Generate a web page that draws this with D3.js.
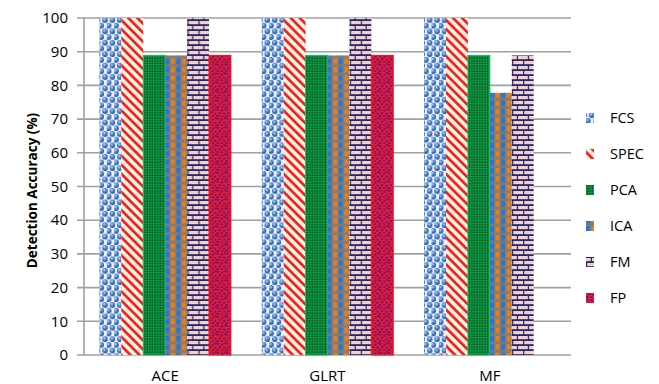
<!DOCTYPE html>
<html>
<head>
<meta charset="utf-8">
<script src="https://cdn.jsdelivr.net/npm/d3@7"></script>
<style>
  html, body { margin: 0; padding: 0; background: #fff; }
  svg { display: block; }
  text { font-family: "Open Sans", "Liberation Sans", sans-serif; fill: #000; }
</style>
</head>
<body>
<svg id="chart" width="659" height="384"></svg>
<script>
// Detection methods on the x axis, feature sets as the bar series
const categories = ["ACE", "GLRT", "MF"];
const series = ["FCS", "SPEC", "PCA", "ICA", "FM", "FP"];
const fcs  = [100, 100, 100];
const spec = [100, 100, 100];
const pca  = [88.9, 88.9, 88.9];
const ica  = [88.9, 88.9, 77.8];
const fm   = [100, 100, 88.9];
const fp   = [88.9, 88.9, 0];
const yTicks = [0, 10, 20, 30, 40, 50, 60, 70, 80, 90, 100];
const yTitle = "Detection Accuracy (%)";

const valuesBySeries = { FCS: fcs, SPEC: spec, PCA: pca, ICA: ica, FM: fm, FP: fp };

const svg = d3.select("#chart");
const margin = { left: 84, right: 571, top: 18, bottom: 355 };

const x0 = d3.scaleBand().domain(categories)
  .range([margin.left, margin.right])
  .paddingInner(0.19).paddingOuter(0.095);
const x1 = d3.scaleBand().domain(series).range([0, x0.bandwidth()]);
const y = d3.scaleLinear().domain([0, 100]).range([margin.bottom, margin.top]);

// ---- fill patterns ----
const defs = svg.append("defs");

// FCS: blue shaded spheres on a pale background
const grad = defs.append("radialGradient").attr("id", "sphere")
  .attr("cx", "40%").attr("cy", "35%").attr("r", "65%");
grad.append("stop").attr("offset", "0%").attr("stop-color", "#cfe0f7");
grad.append("stop").attr("offset", "45%").attr("stop-color", "#4a82cf");
grad.append("stop").attr("offset", "100%").attr("stop-color", "#2656a4");
const pFcs = defs.append("pattern").attr("id", "pat-FCS")
  .attr("patternUnits", "userSpaceOnUse").attr("width", 7.4).attr("height", 11.4);
pFcs.append("rect").attr("width", 7.4).attr("height", 11.4).attr("fill", "#eef3fb");
[[1.85, 2.85], [5.55, 8.55], [-1.85, 8.55], [9.25, 8.55]].forEach(([cx, cy]) =>
  pFcs.append("circle").attr("cx", cx).attr("cy", cy).attr("r", 2.8).attr("fill", "url(#sphere)"));

// SPEC: red diagonal stripes on cream
const pSpec = defs.append("pattern").attr("id", "pat-SPEC")
  .attr("patternUnits", "userSpaceOnUse").attr("width", 6.4).attr("height", 6.4)
  .attr("patternTransform", "rotate(-45)");
pSpec.append("rect").attr("width", 6.4).attr("height", 6.4).attr("fill", "#fff3e2");
pSpec.append("rect").attr("width", 2.7).attr("height", 6.4).attr("fill", "#f5201e");

// PCA: dark green with a fine black dot grid
const pPca = defs.append("pattern").attr("id", "pat-PCA")
  .attr("patternUnits", "userSpaceOnUse").attr("width", 2.6).attr("height", 2.6);
pPca.append("rect").attr("width", 2.6).attr("height", 2.6).attr("fill", "#0c9a42");
pPca.append("rect").attr("x", 0.4).attr("y", 0.4).attr("width", 1.3).attr("height", 1.3).attr("fill", "#05361a");

// ICA: blue/orange plaid crossed by grey bands
const pIca = defs.append("pattern").attr("id", "pat-ICA")
  .attr("patternUnits", "userSpaceOnUse").attr("width", 11).attr("height", 8.4);
pIca.append("rect").attr("width", 11).attr("height", 8.4).attr("fill", "#7d7d7d");
pIca.append("rect").attr("x", 0).attr("y", 0).attr("width", 4).attr("height", 5.2).attr("fill", "#1f78e0");
pIca.append("rect").attr("x", 5.5).attr("y", 0).attr("width", 4).attr("height", 5.2).attr("fill", "#f27d0c");
pIca.append("rect").attr("x", 5.5).attr("y", 5.2).attr("width", 4).attr("height", 3.2).attr("fill", "#a07a5a").attr("opacity", 0.6);
pIca.append("rect").attr("x", 0).attr("y", 6.2).attr("width", 4).attr("height", 1.2).attr("fill", "#5a6f90").attr("opacity", 0.6);

// FM: pink bricks with navy mortar
const pFm = defs.append("pattern").attr("id", "pat-FM")
  .attr("patternUnits", "userSpaceOnUse").attr("width", 11).attr("height", 10);
pFm.append("rect").attr("width", 11).attr("height", 10).attr("fill", "#1c2a6e");
pFm.append("rect").attr("x", 1.2).attr("y", 1).attr("width", 9.8).attr("height", 3.2).attr("fill", "#f9cdc8");
pFm.append("rect").attr("x", 0).attr("y", 6).attr("width", 4.8).attr("height", 3.2).attr("fill", "#f9cdc8");
pFm.append("rect").attr("x", 6).attr("y", 6).attr("width", 5).attr("height", 3.2).attr("fill", "#f9cdc8");

// FP: red with scattered blue specks
const pFp = defs.append("pattern").attr("id", "pat-FP")
  .attr("patternUnits", "userSpaceOnUse").attr("width", 9).attr("height", 9);
pFp.append("rect").attr("width", 9).attr("height", 9).attr("fill", "#fa1616");
[[0.5, 0.8], [4.6, 1.6], [2.4, 4.2], [6.8, 4.8], [0.3, 7.0], [4.4, 7.4], [7.6, 0.2]].forEach(([px, py]) =>
  pFp.append("rect").attr("x", px).attr("y", py).attr("width", 1.9).attr("height", 1.9).attr("fill", "#2020c8"));

const edge = { FCS: "none", SPEC: "none", PCA: "#10c060", ICA: "none", FM: "none", FP: "#ff1010" };

// ---- gridlines and axes ----
const gridColor = "#a0a0a0";
svg.append("g").selectAll("line").data(yTicks).join("line")
  .attr("x1", margin.left - 7).attr("x2", margin.right)
  .attr("y1", d => y(d)).attr("y2", d => y(d))
  .attr("stroke", gridColor).attr("stroke-width", 1.6);

svg.append("line")
  .attr("x1", margin.left).attr("x2", margin.left)
  .attr("y1", y(100)).attr("y2", y(0))
  .attr("stroke", gridColor).attr("stroke-width", 1.6);

svg.append("g").selectAll("text").data(yTicks).join("text")
  .attr("x", 68).attr("y", d => y(d)).attr("dy", "0.35em")
  .attr("text-anchor", "end").attr("font-size", 15).text(d => d);

svg.append("text")
  .attr("transform", `translate(37,${(y(0) + y(100)) / 2 + 4}) rotate(-90)`)
  .attr("text-anchor", "middle").attr("font-size", 13.5).attr("font-weight", "bold")
  .text(yTitle);

svg.append("g").selectAll("text").data(categories).join("text")
  .attr("x", d => x0(d) + x0.bandwidth() / 2).attr("y", 381)
  .attr("text-anchor", "middle").attr("font-size", 15).text(d => d);

// ---- bars ----
const groups = svg.append("g").selectAll("g").data(categories).join("g")
  .attr("transform", d => `translate(${x0(d)},0)`);

groups.selectAll("rect")
  .data((c, ci) => series.map(s => ({ s, v: valuesBySeries[s][ci] })).filter(d => d.v > 0))
  .join("rect")
  .attr("x", d => x1(d.s)).attr("width", x1.bandwidth())
  .attr("y", d => y(d.v)).attr("height", d => y(0) - y(d.v))
  .attr("fill", d => `url(#pat-${d.s})`)
  .attr("stroke", d => edge[d.s]).attr("stroke-width", 1);

// ---- legend ----
const legend = svg.append("g").selectAll("g").data(series).join("g")
  .attr("transform", (d, i) => `translate(586,${118 + i * 36})`);
legend.append("rect").attr("x", 0).attr("y", -5).attr("width", 8).attr("height", 10)
  .attr("fill", d => `url(#pat-${d})`);
legend.append("text").attr("x", 24).attr("dy", "0.35em").attr("font-size", 14.5).text(d => d);
</script>
</body>
</html>
